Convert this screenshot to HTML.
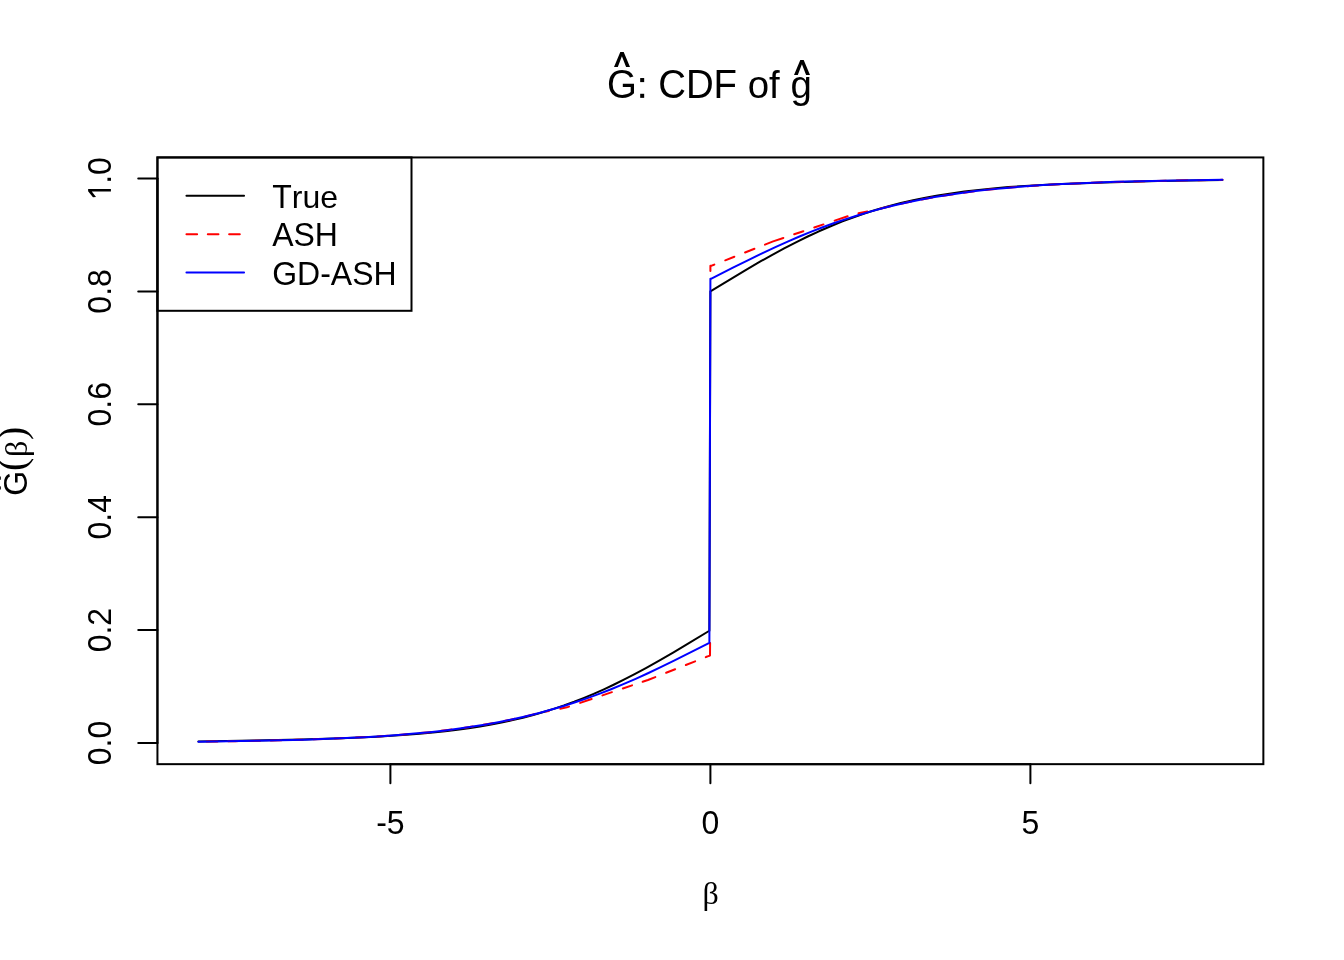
<!DOCTYPE html>
<html><head><meta charset="utf-8"><style>
html,body{margin:0;padding:0;background:#fff;overflow:hidden;}
svg{display:block;font-family:"Liberation Sans",sans-serif;will-change:transform;font-kerning:none;}
</style></head><body>
<svg width="1344" height="960" viewBox="0 0 1344 960">
<rect x="0" y="0" width="1344" height="960" fill="#fff"/>
<path d="M198.40,741.41 L253.70,740.58 L301.82,739.52 L341.76,738.27 L376.58,736.71 L406.27,734.85 L419.58,733.80 L432.90,732.58 L445.18,731.29 L457.47,729.80 L468.74,728.25 L480.00,726.51 L491.26,724.55 L501.50,722.56 L512.77,720.12 L523.01,717.68 L533.25,714.99 L543.49,712.05 L553.73,708.86 L563.97,705.39 L574.21,701.66 L583.42,698.06 L593.66,693.81 L603.90,689.29 L614.14,684.50 L624.38,679.47 L634.62,674.19 L645.89,668.14 L659.20,660.69 L673.54,652.37 L688.90,643.19 L709.38,630.73 L710.40,291.40 L745.22,270.34 L759.55,261.98 L771.84,255.05 L784.13,248.39 L796.42,242.03 L807.68,236.51 L818.94,231.29 L831.23,225.96 L842.50,221.41 L853.76,217.20 L865.02,213.31 L876.29,209.76 L888.58,206.23 L900.86,203.07 L913.15,200.24 L925.44,197.73 L937.73,195.50 L951.04,193.40 L964.35,191.57 L978.69,189.87 L993.02,188.43 L1008.38,187.11 L1024.77,185.94 L1042.18,184.90 L1061.63,183.94 L1104.64,182.38 L1157.89,181.10 L1222.40,180.09" fill="none" stroke="#000" stroke-width="2.0" stroke-linejoin="round" stroke-linecap="round"/>
<path d="M548.85,710.99 L538.84,713.11 L520.81,717.45 L510.80,719.66 L496.78,722.47 L481.76,725.15 L464.74,727.80 L447.72,730.08 L429.70,732.14 L411.67,733.87 L392.65,735.40 L371.62,736.78 L348.59,737.99 L324.56,738.98 L297.53,739.85 L268.49,740.56 L235.45,741.16 L198.40,741.66" fill="none" stroke="#ff0000" stroke-width="2.0" stroke-linejoin="round" stroke-linecap="round" stroke-dasharray="10.67 10.67" stroke-dashoffset="7.77"/>
<path d="M560.25,708.70 L566.85,707.33 L569.05,706.64" fill="none" stroke="#ff0000" stroke-width="2.0" stroke-linejoin="round" stroke-linecap="round"/>
<path d="M580.15,702.90 L591.65,699.02" fill="none" stroke="#ff0000" stroke-width="2.0" stroke-linejoin="round" stroke-linecap="round"/>
<path d="M602.45,695.37 L611.95,692.17" fill="none" stroke="#ff0000" stroke-width="2.0" stroke-linejoin="round" stroke-linecap="round"/>
<path d="M622.85,688.49 L632.05,685.39" fill="none" stroke="#ff0000" stroke-width="2.0" stroke-linejoin="round" stroke-linecap="round"/>
<path d="M642.65,681.82 L647.94,680.00 L655.35,677.07" fill="none" stroke="#ff0000" stroke-width="2.0" stroke-linejoin="round" stroke-linecap="round"/>
<path d="M666.15,672.80 L675.15,669.24" fill="none" stroke="#ff0000" stroke-width="2.0" stroke-linejoin="round" stroke-linecap="round"/>
<path d="M685.85,665.01 L695.15,661.33" fill="none" stroke="#ff0000" stroke-width="2.0" stroke-linejoin="round" stroke-linecap="round"/>
<path d="M725.25,260.33 L734.35,256.73" fill="none" stroke="#ff0000" stroke-width="2.0" stroke-linejoin="round" stroke-linecap="round"/>
<path d="M745.05,252.50 L754.45,248.78" fill="none" stroke="#ff0000" stroke-width="2.0" stroke-linejoin="round" stroke-linecap="round"/>
<path d="M764.95,244.62 L773.13,241.39 L783.35,237.93" fill="none" stroke="#ff0000" stroke-width="2.0" stroke-linejoin="round" stroke-linecap="round"/>
<path d="M794.15,234.29 L803.35,231.18" fill="none" stroke="#ff0000" stroke-width="2.0" stroke-linejoin="round" stroke-linecap="round"/>
<path d="M814.25,227.51 L823.45,224.41" fill="none" stroke="#ff0000" stroke-width="2.0" stroke-linejoin="round" stroke-linecap="round"/>
<path d="M834.65,220.63 L847.65,216.24" fill="none" stroke="#ff0000" stroke-width="2.0" stroke-linejoin="round" stroke-linecap="round"/>
<path d="M858.45,213.24 L867.35,211.41" fill="none" stroke="#ff0000" stroke-width="2.0" stroke-linejoin="round" stroke-linecap="round"/>
<path d="M705.75,657.14 L706.66,656.78 L707.57,656.42 L708.47,656.06 L709.38,655.70 L710.00,655.50 L710.10,643.00" fill="none" stroke="#ff0000" stroke-width="2.0" stroke-linejoin="round" stroke-linecap="round"/>
<path d="M710.40,271.10 L710.40,265.80 L711.39,265.81 L712.38,265.42 L713.36,265.03 L714.35,264.64" fill="none" stroke="#ff0000" stroke-width="2.0" stroke-linejoin="round" stroke-linecap="round"/>
<path d="M880.05,208.82 L900.07,204.03 L912.08,201.40 L927.10,198.45 L943.11,195.68 L960.13,193.12 L977.15,190.92 L995.17,188.94 L1013.19,187.28 L1032.21,185.81 L1053.23,184.49 L1075.25,183.38 L1099.27,182.41 L1125.30,181.60 L1154.33,180.90 L1186.36,180.32 L1222.40,179.84" fill="none" stroke="#ff0000" stroke-width="2.0" stroke-linejoin="round" stroke-linecap="round" stroke-dasharray="10.67 10.67"/>
<path d="M198.40,741.66 L256.77,740.79 L304.90,739.63 L345.86,738.11 L364.29,737.19 L381.70,736.15 L398.08,734.99 L414.46,733.62 L429.82,732.13 L445.18,730.40 L459.52,728.54 L472.83,726.59 L486.14,724.40 L499.46,721.96 L512.77,719.24 L525.06,716.47 L538.37,713.17 L550.66,709.84 L562.94,706.23 L575.23,702.32 L587.52,698.12 L599.81,693.62 L611.07,689.24 L623.36,684.18 L635.65,678.85 L647.94,673.27 L661.25,666.97 L674.56,660.46 L709.38,642.77 L710.40,278.73 L711.42,278.73 L732.93,267.73 L748.29,260.03 L762.62,253.05 L775.94,246.81 L788.22,241.29 L799.49,236.46 L810.75,231.86 L822.02,227.49 L834.30,223.02 L846.59,218.84 L858.88,214.96 L871.17,211.37 L883.46,208.06 L895.74,205.03 L908.03,202.26 L921.34,199.54 L934.66,197.10 L947.97,194.91 L961.28,192.96 L975.62,191.10 L990.98,189.37 L1006.34,187.88 L1022.72,186.51 L1039.10,185.35 L1056.51,184.31 L1074.94,183.39 L1115.90,181.87 L1164.03,180.71 L1222.40,179.84" fill="none" stroke="#0000ff" stroke-width="2.0" stroke-linejoin="round" stroke-linecap="round"/>
<rect x="157.44" y="157.44" width="1105.92" height="606.72" fill="none" stroke="#000" stroke-width="2.0"/>
<line x1="390.4" y1="764.16" x2="1030.4" y2="764.16" stroke="#000" stroke-width="2.0" stroke-linecap="round"/>
<line x1="390.4" y1="764.16" x2="390.4" y2="783.36" stroke="#000" stroke-width="2.0" stroke-linecap="round"/>
<line x1="710.4" y1="764.16" x2="710.4" y2="783.36" stroke="#000" stroke-width="2.0" stroke-linecap="round"/>
<line x1="1030.4" y1="764.16" x2="1030.4" y2="783.36" stroke="#000" stroke-width="2.0" stroke-linecap="round"/>
<line x1="138.24" y1="743.00" x2="157.44" y2="743.00" stroke="#000" stroke-width="2.0" stroke-linecap="round"/>
<line x1="138.24" y1="630.10" x2="157.44" y2="630.10" stroke="#000" stroke-width="2.0" stroke-linecap="round"/>
<line x1="138.24" y1="517.20" x2="157.44" y2="517.20" stroke="#000" stroke-width="2.0" stroke-linecap="round"/>
<line x1="138.24" y1="404.30" x2="157.44" y2="404.30" stroke="#000" stroke-width="2.0" stroke-linecap="round"/>
<line x1="138.24" y1="291.40" x2="157.44" y2="291.40" stroke="#000" stroke-width="2.0" stroke-linecap="round"/>
<line x1="138.24" y1="178.50" x2="157.44" y2="178.50" stroke="#000" stroke-width="2.0" stroke-linecap="round"/>
<line x1="157.44" y1="743.00" x2="157.44" y2="178.50" stroke="#000" stroke-width="2.0" stroke-linecap="round"/>
<text transform="translate(376.17,833.80) scale(1,1.0436)" font-size="32">-5</text>
<text transform="translate(701.50,833.80) scale(1,1.0436)" font-size="32">0</text>
<text transform="translate(1021.50,833.80) scale(1,1.0436)" font-size="32">5</text>
<text transform="translate(110.90,743.00) rotate(-90) translate(-22.24,0) scale(1,1.0436)" font-size="32">0.0</text>
<text transform="translate(110.90,630.10) rotate(-90) translate(-22.24,0) scale(1,1.0436)" font-size="32">0.2</text>
<text transform="translate(110.90,517.20) rotate(-90) translate(-22.24,0) scale(1,1.0436)" font-size="32">0.4</text>
<text transform="translate(110.90,404.30) rotate(-90) translate(-22.24,0) scale(1,1.0436)" font-size="32">0.6</text>
<text transform="translate(110.90,291.40) rotate(-90) translate(-22.24,0) scale(1,1.0436)" font-size="32">0.8</text>
<path transform="translate(110.9,178.50) rotate(-90) translate(-22.24,0) scale(0.032,-0.032)" d="M364,0 L364,712 L298,712 L112,560 L118,465 L286,598 L286,0 Z" fill="#000"/>
<text transform="translate(110.9,178.50) rotate(-90) scale(1,1.0436)" font-size="32" text-anchor="start" x="-5.35">.0</text>
<text x="710.6" y="903.9" font-size="32" text-anchor="middle" font-family="Liberation Serif, serif">&#946;</text>
<text transform="translate(606.98,97.85) scale(1,1.0436)" font-size="38.4">G  CDF </text>
<text transform="translate(747.77,97.85) scale(1,1.0)" font-size="38.4">of g</text>
<rect x="640.19" y="78.04" width="3.99" height="4.07" fill="#000"/>
<rect x="640.19" y="93.78" width="3.99" height="4.07" fill="#000"/>
<polygon points="614.00,66.90 620.30,52.10 623.70,52.10 630.00,66.90 626.10,66.90 621.90,56.30 617.80,66.90" fill="#000"/>
<polygon points="794.00,74.90 800.30,60.10 803.70,60.10 810.00,74.90 806.10,74.90 801.90,64.30 797.80,74.90" fill="#000"/>
<text transform="translate(26.60,483.20) rotate(-90) scale(1,1.0436)" font-size="32" text-anchor="middle" >G</text>
<polygon points="0.81,489.66 -11.52,484.41 -11.52,481.57 0.81,476.32 0.81,479.57 -8.02,483.07 0.81,486.49" fill="#000"/>
<text transform="translate(25.40,464.35) rotate(-90) scale(1,1)" font-size="40" text-anchor="middle" font-family="Liberation Serif, serif">(</text>
<text transform="translate(26.50,448.90) rotate(-90) scale(1,1)" font-size="32" text-anchor="middle" font-family="Liberation Serif, serif">&#946;</text>
<text transform="translate(25.40,433.25) rotate(-90) scale(1,1)" font-size="40" text-anchor="middle" font-family="Liberation Serif, serif">)</text>
<rect x="157.44" y="157.44" width="254.06" height="153.36" fill="none" stroke="#000" stroke-width="2.0"/>
<line x1="186.45" y1="195.85" x2="244.05" y2="195.85" stroke="#000" stroke-width="2.0" stroke-linecap="round" />
<text transform="translate(272.20,208.20) scale(1,1.0436)" font-size="32">T</text>
<text transform="translate(291.75,208.20) scale(1,1.0)" font-size="32">rue</text>
<line x1="186.45" y1="234.15" x2="244.05" y2="234.15" stroke="#ff0000" stroke-width="2.0" stroke-linecap="round" stroke-dasharray="10.67 10.67"/>
<text transform="translate(272.20,245.90) scale(1,1.0436)" font-size="32">ASH</text>
<line x1="186.45" y1="272.50" x2="244.05" y2="272.50" stroke="#0000ff" stroke-width="2.0" stroke-linecap="round" />
<text transform="translate(272.20,285.20) scale(1,1.0436)" font-size="32">GD-ASH</text>
</svg>
</body></html>
